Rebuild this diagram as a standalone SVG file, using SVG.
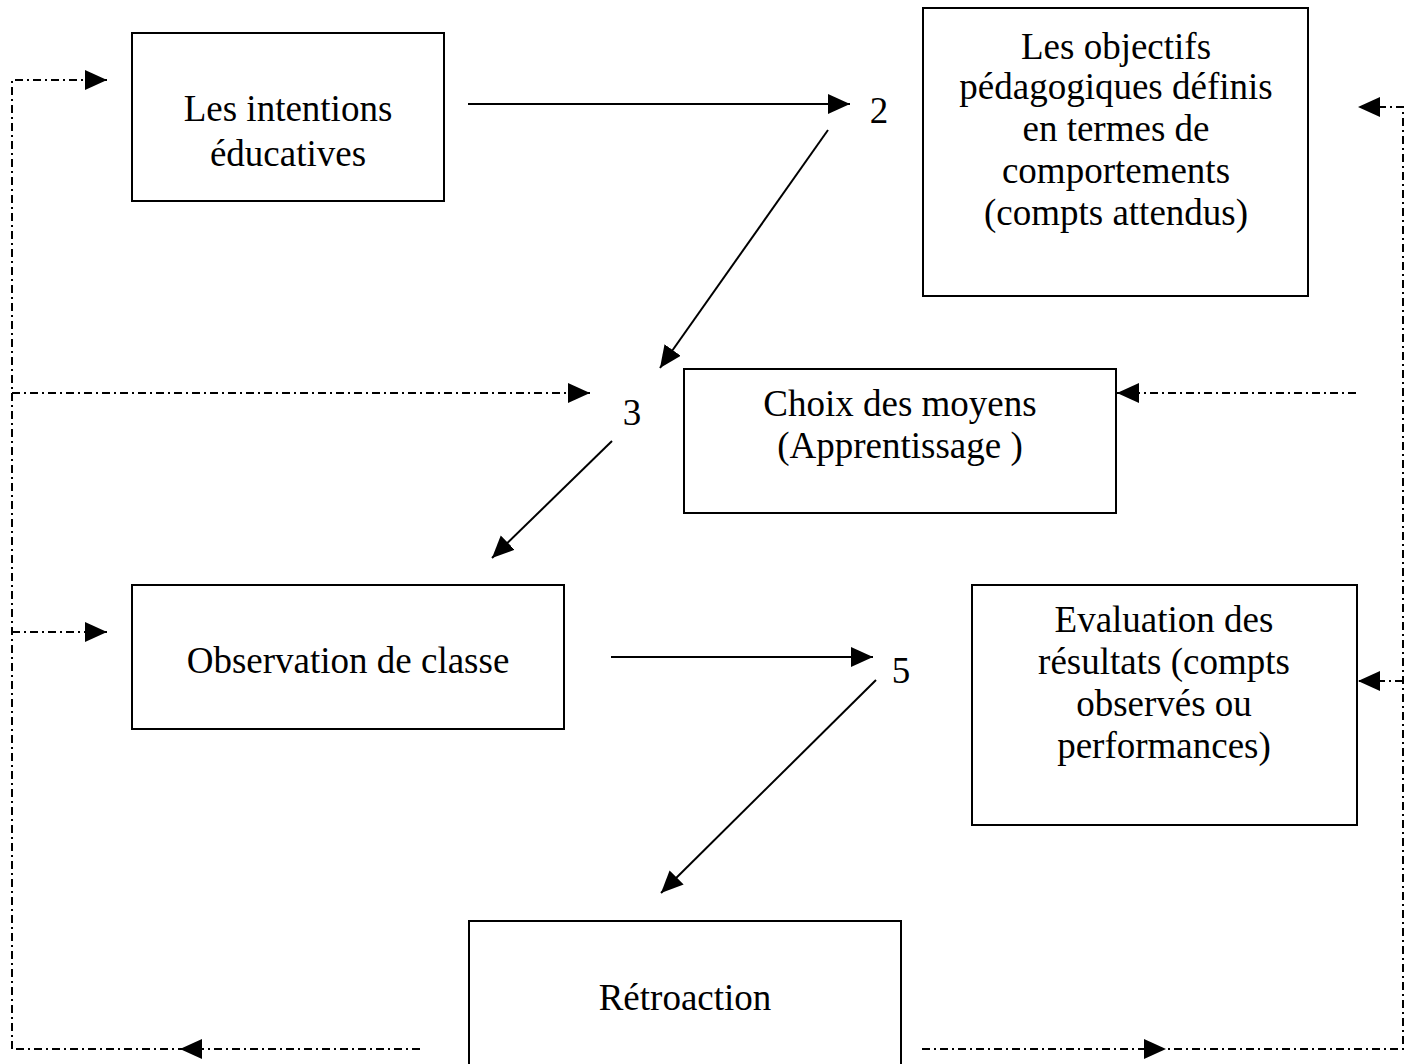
<svg xmlns="http://www.w3.org/2000/svg" width="1414" height="1064" viewBox="0 0 1414 1064">
<style>
.box{fill:#fff;stroke:#000;stroke-width:2}
.t{font-family:"Liberation Serif","Times New Roman",serif;font-size:37px;fill:#000;text-anchor:middle}
.s{fill:none;stroke:#000;stroke-width:2}
.d{fill:none;stroke:#000;stroke-width:2;stroke-dasharray:8 4 2 4}
.h{fill:#000;stroke:none}
</style>
<defs>
<marker id="a" markerUnits="userSpaceOnUse" markerWidth="24" markerHeight="22" refX="22" refY="10" orient="auto">
<path d="M0,0 L22,10 L0,20 Z" fill="#000"/>
</marker>
</defs>
<rect width="1414" height="1064" fill="#fff"/>
<g id="n1"><rect class="box" x="132" y="33" width="312" height="168"/>
<text class="t" x="288" y="121">Les intentions</text><text class="t" x="288" y="166">éducatives</text></g>
<g id="n2"><rect class="box" x="923" y="8" width="385" height="288"/>
<text class="t" x="1116" y="59">Les objectifs</text><text class="t" x="1116" y="99">pédagogiques définis</text><text class="t" x="1116" y="141">en termes de</text><text class="t" x="1116" y="183">comportements</text><text class="t" x="1116" y="225">(compts attendus)</text></g>
<g id="n3"><rect class="box" x="684" y="369" width="432" height="144"/>
<text class="t" x="900" y="416">Choix des moyens</text><text class="t" x="900" y="458">(Apprentissage )</text></g>
<g id="n4"><rect class="box" x="132" y="585" width="432" height="144"/>
<text class="t" x="348" y="673">Observation de classe</text></g>
<g id="n5"><rect class="box" x="972" y="585" width="385" height="240"/>
<text class="t" x="1164" y="632">Evaluation des</text><text class="t" x="1164" y="674">résultats (compts</text><text class="t" x="1164" y="716">observés ou</text><text class="t" x="1164" y="758">performances)</text></g>
<g id="n6"><rect class="box" x="469" y="921" width="432" height="160"/>
<text class="t" x="685" y="1010">Rétroaction</text></g>
<g id="labels">
<text class="t" x="879" y="123">2</text>
<text class="t" x="632" y="425">3</text>
<text class="t" x="901" y="683">5</text>
</g>
<g id="connectors">
<line class="s" x1="468" y1="104" x2="850" y2="104" marker-end="url(#a)"/>
<line class="s" x1="828" y1="130" x2="660" y2="368" marker-end="url(#a)"/>
<line class="s" x1="612" y1="441" x2="492" y2="558" marker-end="url(#a)"/>
<line class="s" x1="611" y1="657" x2="873" y2="657" marker-end="url(#a)"/>
<line class="s" x1="876" y1="680" x2="661" y2="893" marker-end="url(#a)"/>
<path class="d" d="M12,1049 L12,80 L107,80" marker-end="url(#a)"/>
<line class="d" x1="12" y1="393" x2="590" y2="393" marker-end="url(#a)"/>
<line class="d" x1="12" y1="632" x2="107" y2="632" marker-end="url(#a)"/>
<line class="d" x1="420" y1="1049" x2="12" y2="1049"/>
<path class="h" d="M180,1049 L202,1039 L202,1059 Z"/>
<path class="d" d="M922,1049 L1403,1049 L1403,107 L1358,107" marker-end="url(#a)"/>
<path class="h" d="M1166,1049 L1144,1039 L1144,1059 Z"/>
<line class="d" x1="1356" y1="393" x2="1117" y2="393" marker-end="url(#a)"/>
<line class="d" x1="1403" y1="681" x2="1358" y2="681" marker-end="url(#a)"/>
</g>
</svg>
